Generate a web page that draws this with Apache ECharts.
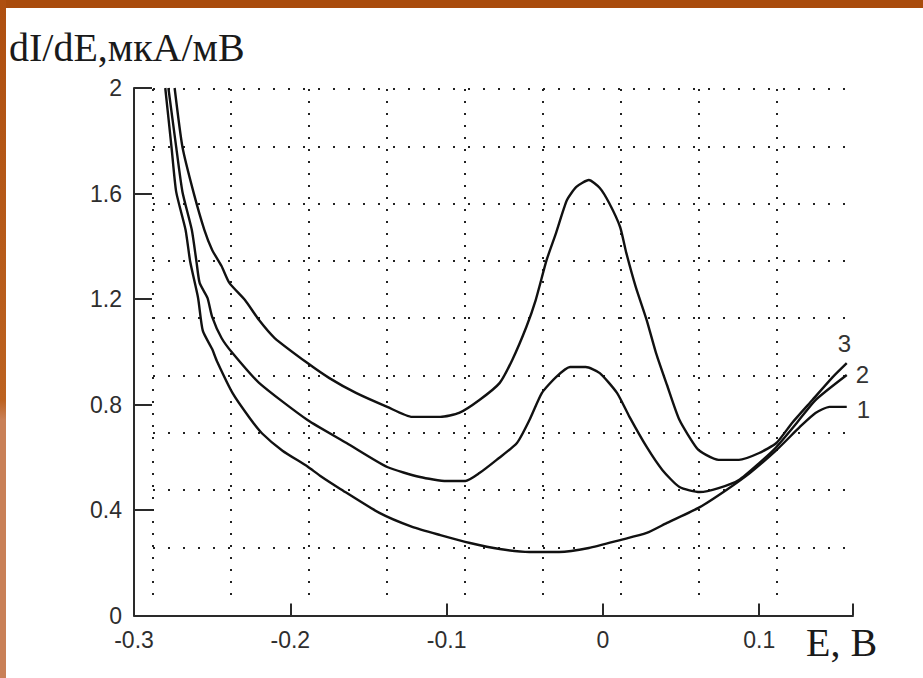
<!DOCTYPE html>
<html><head><meta charset="utf-8">
<script src="https://cdn.jsdelivr.net/npm/echarts@6/dist/echarts.min.js"></script>
<style>
html,body{margin:0;padding:0;background:#fff;overflow:hidden}
#c{position:absolute;left:0;top:0;width:923px;height:678px}
#bt{position:absolute;left:0;top:0;width:923px;height:8px;background:#A94B0C}
#bl{position:absolute;left:0;top:0;width:6px;height:678px;background:linear-gradient(#AE4F10 0,#BC6220 400px,#C98057 420px,#C98057 100%)}
</style></head><body>
<div id="c"></div><div id="bt"></div><div id="bl"></div>
<script>
// X tick labels (E, V) and Y tick labels (dI/dE)
const xTickLabels = ['-0.3', '-0.2', '-0.1', '0', '0.1'];
const yTickLabels = ['0', '0.4', '0.8', '1.2', '1.6', '2'];
const curveNames = ['1', '2', '3'];

// Curve 1
const E1 = [-0.280,-0.276,-0.273,-0.267,-0.264,-0.259,-0.256,-0.250,-0.247,-0.237,-0.226,-0.218,-0.205,-0.189,-0.181,-0.168,-0.143,-0.122,-0.104,-0.085,-0.066,-0.047,-0.028,-0.009,0.011,0.028,0.041,0.062,0.079,0.094,0.111,0.126,0.136,0.145,0.156];
const I1 = [2.000,1.776,1.606,1.462,1.340,1.204,1.080,1.010,0.965,0.844,0.749,0.690,0.625,0.565,0.530,0.480,0.389,0.336,0.305,0.275,0.252,0.241,0.241,0.256,0.286,0.313,0.351,0.411,0.476,0.540,0.627,0.715,0.768,0.791,0.791];

// Curve 2
const E2 = [-0.278,-0.273,-0.269,-0.263,-0.260,-0.258,-0.253,-0.250,-0.244,-0.237,-0.220,-0.189,-0.164,-0.138,-0.117,-0.100,-0.088,-0.079,-0.068,-0.055,-0.047,-0.039,-0.030,-0.021,-0.011,-0.002,0.009,0.017,0.028,0.038,0.049,0.062,0.074,0.087,0.100,0.111,0.124,0.136,0.156];
const I2 = [2.000,1.776,1.606,1.462,1.340,1.261,1.204,1.132,1.052,0.995,0.882,0.741,0.654,0.563,0.525,0.510,0.510,0.540,0.590,0.654,0.741,0.844,0.904,0.942,0.942,0.919,0.844,0.753,0.639,0.552,0.487,0.468,0.483,0.514,0.578,0.639,0.730,0.817,0.912];

// Curve 3
const E3 = [-0.274,-0.269,-0.262,-0.255,-0.250,-0.244,-0.239,-0.229,-0.220,-0.210,-0.189,-0.175,-0.158,-0.138,-0.122,-0.104,-0.092,-0.079,-0.066,-0.058,-0.049,-0.043,-0.036,-0.030,-0.023,-0.017,-0.009,-0.002,0.004,0.011,0.015,0.021,0.028,0.034,0.041,0.049,0.060,0.066,0.074,0.087,0.100,0.111,0.121,0.134,0.147,0.156];
const I3 = [2.000,1.776,1.606,1.462,1.386,1.325,1.261,1.196,1.120,1.052,0.957,0.900,0.844,0.791,0.753,0.753,0.768,0.817,0.882,0.969,1.094,1.196,1.348,1.450,1.575,1.625,1.651,1.621,1.564,1.473,1.374,1.246,1.120,0.995,0.874,0.741,0.635,0.609,0.590,0.590,0.616,0.654,0.730,0.817,0.904,0.957];

function zip(a, b) { return a.map((v, i) => [v, b[i]]); }

const chart = echarts.init(document.getElementById('c'), null, {renderer: 'svg'});
const sansFont = '"Liberation Sans", Arial, sans-serif';
const serifFont = '"Liberation Serif", "Times New Roman", serif';
const inkLine = '#111111';

function mkSeries(name, E, I, off) {
  return {
    type: 'line', name: name, xAxisIndex: 0, yAxisIndex: 0,
    data: zip(E, I), showSymbol: false, smooth: 0.2, clip: true,
    lineStyle: {color: inkLine, width: 2.4},
    endLabel: {show: true, formatter: name, distance: 0, offset: off,
      color: '#333', fontSize: 24, fontFamily: sansFont, align: 'left', verticalAlign: 'middle'},
    z: 5, animation: false
  };
}

chart.setOption({
  animation: false,
  backgroundColor: '#ffffff',
  grid: [
    {left: 134, top: 88, right: 70, bottom: 62.5, containLabel: false},
    {left: 153, top: 89, width: 692, height: 511, containLabel: false}
  ],
  xAxis: [
    {type: 'value', gridIndex: 0, min: -0.3, max: 0.16, interval: 0.1,
     axisLine: {show: true, onZero: false, lineStyle: {color: '#2a2a2a', width: 2}},
     axisTick: {show: true, inside: true, length: 12, lineStyle: {color: '#2a2a2a', width: 2}},
     axisLabel: {show: true, margin: 13, color: '#2e2e2e', fontSize: 23, fontFamily: sansFont,
       formatter: function (v) { const i = Math.round((v + 0.3) * 10); return xTickLabels[i] !== undefined ? xTickLabels[i] : ''; }},
     splitLine: {show: false}},
    {type: 'value', gridIndex: 1, min: 0, max: 8.88, interval: 1,
     axisLine: {show: false}, axisTick: {show: false}, axisLabel: {show: false},
     splitLine: {show: true, showMinLine: true, showMaxLine: false,
       lineStyle: {color: '#222', width: 2, type: [2, 10]}}}
  ],
  yAxis: [
    {type: 'value', gridIndex: 0, min: 0, max: 2, interval: 0.4,
     axisLine: {show: true, onZero: false, lineStyle: {color: '#2a2a2a', width: 2}},
     axisTick: {show: true, inside: true, length: 18, lineStyle: {color: '#2a2a2a', width: 2}},
     axisLabel: {show: true, margin: 12, color: '#2e2e2e', fontSize: 23, fontFamily: sansFont,
       formatter: function (v) { const i = Math.round(v / 0.4); return yTickLabels[i] !== undefined ? yTickLabels[i] : ''; }},
     splitLine: {show: false}},
    {type: 'value', gridIndex: 1, min: 0, max: 8.92, interval: 1, inverse: true,
     axisLine: {show: false}, axisTick: {show: false}, axisLabel: {show: false},
     splitLine: {show: true, showMinLine: true, showMaxLine: false,
       lineStyle: {color: '#222', width: 2, type: [2, 13]}}}
  ],
  graphic: [
    {type: 'text', left: 9, top: 27, z: 10,
     style: {text: 'dI/dE,мкА/мВ', font: '40px ' + serifFont, fill: '#1a1a1a'}},
    {type: 'text', left: 806, top: 622, z: 10,
     style: {text: 'E, В', font: '40px ' + serifFont, fill: '#1a1a1a'}}
  ],
  series: [
    mkSeries(curveNames[0], E1, I1, [10, 3]),
    mkSeries(curveNames[1], E2, I2, [9, 0]),
    mkSeries(curveNames[2], E3, I3, [-9, -20])
  ]
});
</script>
</body></html>
